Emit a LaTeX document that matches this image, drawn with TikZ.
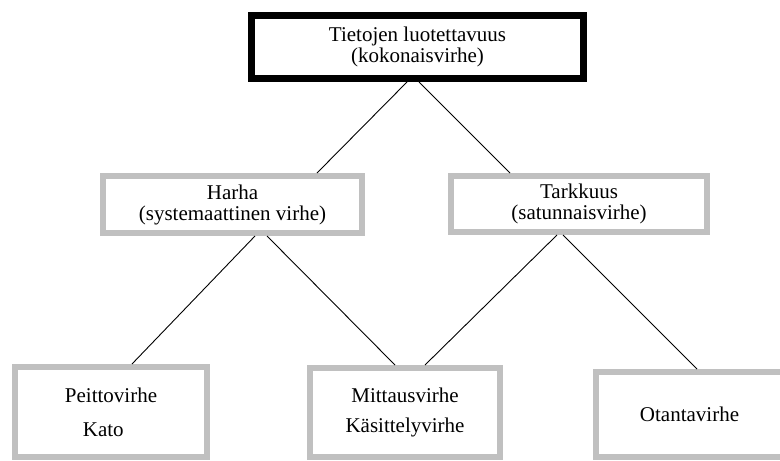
\documentclass[tikz,border=0pt]{standalone}
\usepackage{fontspec}
\setmainfont{Liberation Serif}
\usepackage{tikz}
\definecolor{boxgray}{HTML}{C0C0C0}
\tikzset{
    main-box/.style = {draw=black, fill=white, line width=7pt, rectangle, inner sep=0pt, align=center, font=\fontsize{21pt}{21pt}\selectfont},
    level-box/.style = {draw=boxgray, fill=white, line width=6pt, rectangle, inner sep=0pt, align=center, font=\fontsize{21pt}{21pt}\selectfont},
    link/.style = {draw=black, line width=0.9pt},
}

\begin{document}
\begin{tikzpicture}[x=1pt, y=-1pt]
\useasboundingbox (0,0) rectangle (780,461);
\clip (0,0) rectangle (780,461);
% top
\node [main-box, minimum width=332pt, minimum height=63pt] (total) at (417.5,47) {Tietojen luotettavuus\\(kokonaisvirhe)};
% second level
\node [level-box, minimum width=259pt, minimum height=57pt] (bias) at (232.5,204.5) {Harha\\(systemaattinen virhe)};
\node [level-box, minimum width=256pt, minimum height=56pt] (precision) at (579,204) {Tarkkuus\\(satunnaisvirhe)};
% error types
\node [level-box, minimum width=192pt, minimum height=90pt, align=left] (coverage) at (111,412) {Peittovirhe\\[13pt]\hspace*{18pt}Kato};
\node [level-box, minimum width=190pt, minimum height=89pt] (measurement) at (405,412.5) {Mittausvirhe\\[9pt]Käsittelyvirhe};
\node [level-box, minimum width=187pt, minimum height=85pt] (sampling) at (689.5,414.5) {Otantavirhe};

\draw [link] ([xshift=-10.5pt]total.south) -- ([xshift=84.5pt]bias.north);
\draw [link] ([xshift=1.5pt]total.south) -- ([xshift=-69pt]precision.north);
\draw [link] ([xshift=22.5pt]bias.south) -- ([xshift=21pt]coverage.north);
\draw [link] ([xshift=34.5pt]bias.south) -- ([xshift=-10pt]measurement.north);
\draw [link] ([xshift=-22pt]precision.south) -- ([xshift=20pt]measurement.north);
\draw [link] ([xshift=-16pt]precision.south) -- ([xshift=7.5pt]sampling.north);
\end{tikzpicture}
\end{document}
